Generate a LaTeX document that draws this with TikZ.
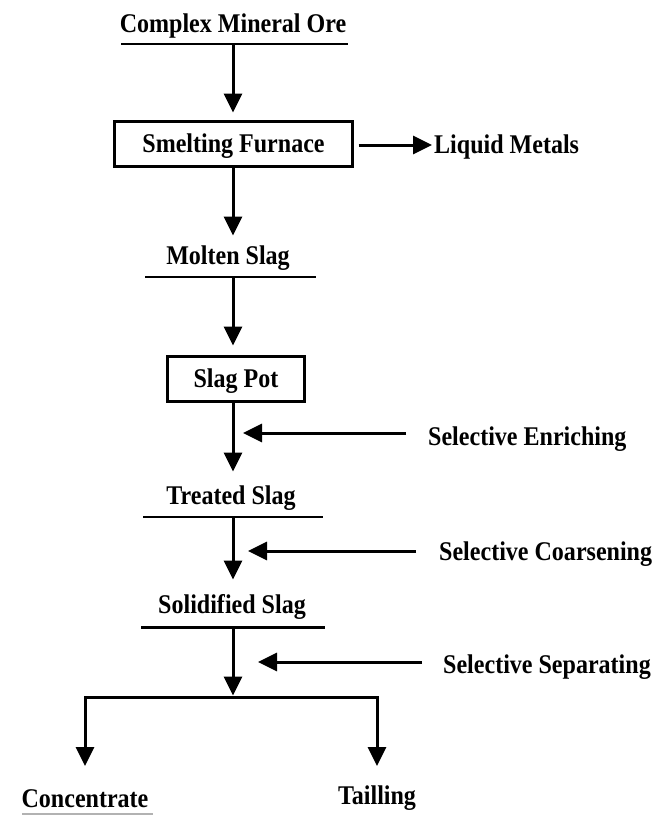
\documentclass[tikz,border=0pt]{standalone}
\usepackage{fontspec}
\setmainfont{Liberation Serif}[FakeStretch=0.89]
\usetikzlibrary{arrows.meta}
\begin{document}
\begin{tikzpicture}[x=1pt,y=-1pt,
  lbl/.style={font=\fontsize{27}{31}\selectfont\bfseries, inner sep=0pt, text height=17.5pt, text depth=0pt},
  box/.style={lbl, draw, line width=3pt, minimum height=45pt},
  rulel/.style={line width=2.5pt},
  arr/.style={line width=3pt, -{Triangle[width=18pt,length=19pt]}}]
\useasboundingbox (0,0) rectangle (658,816);

% Complex Mineral Ore
\node[lbl] (ore) at (233,24) {Complex Mineral Ore};
\coordinate (oreL) at (121,44);
\coordinate (oreR) at (348,44);
\coordinate (oreM) at (233,44);
\draw[rulel] (oreL) -- (oreR);

% Smelting furnace
\node[box, minimum width=238pt] (furnace) at (233.5,144) {Smelting Furnace};
\draw[arr, shorten >=7.5pt] (oreM) -- (oreM |- furnace.north);

% Liquid metals
\node[lbl, anchor=west] (liquid) at (434,145) {Liquid Metals};
\draw[arr, shorten <=4.5pt, shorten >=2pt] (furnace.east |- liquid.west) -- (liquid.west);

% Molten slag
\node[lbl] (molten) at (228,256) {Molten Slag};
\coordinate (moltenL) at (145,277);
\coordinate (moltenR) at (316,277);
\coordinate (moltenM) at (233,277);
\draw[arr, shorten >=11.5pt] (furnace.south -| moltenM) -- (moltenM |- molten.north);
\draw[rulel] (moltenL) -- (moltenR);

% Slag pot
\node[box, minimum width=137pt] (pot) at (236,379) {Slag Pot};
\draw[arr, shorten >=9.5pt] (moltenM) -- (moltenM |- pot.north);

% Treated slag
\node[lbl] (treated) at (231,496) {Treated Slag};
\coordinate (treatedL) at (143,517);
\coordinate (treatedR) at (323,517);
\coordinate (treatedM) at (233,517);
\draw[arr, shorten >=15.5pt] (pot.south -| treatedM) -- (treatedM |- treated.north);
\draw[rulel] (treatedL) -- (treatedR);

% Selective enriching
\node[lbl, anchor=west] (enrich) at (428,437) {Selective Enriching};
\coordinate (enrichS) at (406,433);
\coordinate (enrichT) at (243,433);
\draw[arr] (enrichS) -- (enrichT);

% Solidified slag
\node[lbl] (solid) at (232,605) {Solidified Slag};
\coordinate (solidL) at (141,627.5);
\coordinate (solidR) at (325,627.5);
\coordinate (solidM) at (233,627.5);
\draw[arr, shorten >=16.5pt] (treatedM) -- (treatedM |- solid.north);
\draw[rulel] (solidL) -- (solidR);

% Selective coarsening
\node[lbl, anchor=west] (coarsen) at (439,552) {Selective Coarsening};
\coordinate (coarsenS) at (416,551);
\coordinate (coarsenT) at (248,551);
\draw[arr] (coarsenS) -- (coarsenT);

% Split bar
\coordinate (barM) at (233,697);
\coordinate (barL) at (85,697);
\coordinate (barR) at (377,697);
\draw[arr, shorten >=1.5pt] (solidM) -- (barM);

% Selective separating
\node[lbl, anchor=west] (separ) at (443,665) {Selective Separating};
\coordinate (separS) at (422,662);
\coordinate (separT) at (258,662);
\draw[arr] (separS) -- (separT);

% Products
\node[lbl] (conc) at (85,799) {Concentrate};
\node[lbl] (tail) at (377,796) {Tailling};
\coordinate (concT) at (85,766);
\coordinate (tailT) at (377,766);
\draw[arr] (barR) -- (barL) -- (concT);
\draw[arr] (barL) -- (barR) -- (tailT);
\coordinate (concUL) at (22,814);
\coordinate (concUR) at (153,814);
\draw[line width=1.5pt, gray!60] (concUL) -- (concUR);
\end{tikzpicture}
\end{document}
